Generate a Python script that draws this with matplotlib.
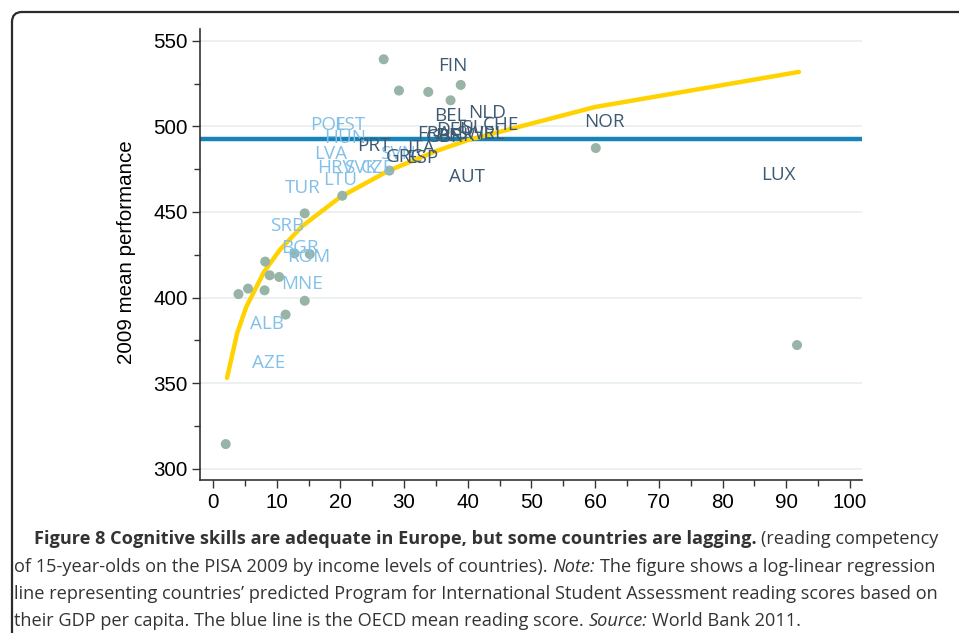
import matplotlib
matplotlib.use("Agg")
import matplotlib.pyplot as plt
from matplotlib.patches import FancyBboxPatch
from matplotlib.transforms import IdentityTransform

W, H, DPI = 959, 633, 100

# GDP per capita (x, thousand) and 2009 PISA reading score (y) for the grey dots
dot_x = [26.8, 29.2, 33.8, 38.9, 37.3, 27.7, 20.3, 14.4, 12.8, 15.2, 8.2, 8.9,
         10.4, 4.0, 5.5, 8.1, 14.4, 11.4, 2.0, 60.1, 91.7]
dot_y = [539.3, 521.0, 520.2, 524.3, 515.3, 474.2, 459.5, 449.2, 425.8, 425.4, 421.0, 413.0,
         412.0, 402.0, 405.2, 404.2, 398.1, 390.0, 314.3, 487.4, 372.2]

# fitted log-linear regression line
fit_x = [2.2, 3.8, 5.2, 8.0, 10.5, 14.0, 20.0, 27.5, 35.0, 40.0, 60.0, 92.0]
fit_y = [353.0, 379.2, 394.3, 414.9, 427.9, 441.7, 458.8, 474.0, 485.6, 492.0, 511.4, 531.9]

OECD_MEAN = 492.5

# country codes: newer / non-member countries (light blue)
light_codes = ["POL", "EST", "HUN", "LVA", "HRV", "SVK", "CZE", "LTU", "TUR", "SRB",
               "BGR", "ROM", "MNE", "ALB", "AZE", "SVN"]
light_x = [18.0, 21.4, 20.7, 18.4, 19.3, 23.2, 25.9, 19.9, 14.1, 11.6,
           13.7, 15.1, 13.9, 8.4, 8.8, 29.0]
light_y = [500.9, 500.9, 493.3, 483.9, 475.7, 475.7, 475.7, 468.7, 464.0, 441.8,
           429.0, 423.7, 407.9, 384.5, 361.7, 483.9]

# old member countries (dark slate)
dark_codes = ["FIN", "BEL", "NLD", "CHE", "FRA", "IRL", "DEU", "ISL", "DNK", "GBR",
              "SWE", "PRT", "GRC", "ITA", "ESP", "AUT", "NOR", "LUX"]
dark_x = [37.6, 37.2, 43.0, 45.3, 34.7, 43.7, 38.0, 40.3, 38.0, 36.4,
          41.1, 25.3, 30.1, 32.6, 32.8, 39.9, 61.4, 88.7]
dark_y = [535.6, 506.1, 508.1, 500.9, 495.6, 495.6, 498.0, 499.0, 494.4, 493.9,
          495.6, 488.6, 482.2, 487.4, 481.6, 470.5, 502.6, 471.6]

x_ticks = list(range(0, 101, 10))
y_ticks = [300, 350, 400, 450, 500, 550]

caption_lines = [
    [("Figure 8 Cognitive skills are adequate in Europe, but some countries are lagging.", "bold", "normal"),
     ("(reading competency", "normal", "normal")],
    [("of 15-year-olds on the PISA 2009 by income levels of countries).", "normal", "normal"),
     ("Note:", "normal", "italic"),
     ("The figure shows a log-linear regression", "normal", "normal")],
    [("line representing countries\u2019 predicted Program for International Student Assessment reading scores based on",
      "normal", "normal")],
    [("their GDP per capita. The blue line is the OECD mean reading score.", "normal", "normal"),
     ("Source:", "normal", "italic"),
     ("World Bank 2011.", "normal", "normal")],
]
caption_x = [34, 14, 14, 14]
caption_y = [544, 572, 599, 626]

LIGHT = "#82c0e9"
DARK = "#3e5a72"
INK = "#333333"
LABEL_FONT = "Open Sans"
TICK_FONT = "Liberation Sans"


def draw_caption(fig, size=13.1):
    renderer = fig.canvas.get_renderer()
    space = size * DPI / 72 * 0.26
    for runs, x0, y0 in zip(caption_lines, caption_x, caption_y):
        x = x0
        for s, weight, style in runs:
            t = fig.text(x / W, 1 - y0 / H, s, fontsize=size, family=LABEL_FONT,
                         fontweight=weight, fontstyle=style, color=INK, va="baseline")
            bb = t.get_window_extent(renderer)
            x += bb.width + space


def main():
    fig = plt.figure(figsize=(W / DPI, H / DPI), dpi=DPI)
    ax = fig.add_axes([200 / W, 153 / H, 662 / W, 451 / H])

    ax.set_xlim(-2.04, 101.9)
    ax.set_ylim(293.3, 557.0)

    ax.yaxis.grid(True, color="#e8eeee", lw=1.2)
    ax.set_axisbelow(True)

    ax.axhline(OECD_MEAN, color="#1684b8", lw=3.2, zorder=2)
    ax.plot(fit_x, fit_y, color="#ffd200", lw=3.2, solid_capstyle="round", zorder=3)
    ax.scatter(dot_x, dot_y, s=52, color="#98b4a7", edgecolors="none", zorder=4)

    for c, x, y in zip(light_codes, light_x, light_y):
        ax.text(x, y, c, color=LIGHT, fontsize=13.6, family=LABEL_FONT,
                ha="center", va="center", zorder=5)
    for c, x, y in zip(dark_codes, dark_x, dark_y):
        ax.text(x, y, c, color=DARK, fontsize=13.6, family=LABEL_FONT,
                ha="center", va="center", zorder=6)

    ax.set_xticks(x_ticks)
    ax.set_yticks(y_ticks)
    ax.set_xticks([v + 5 for v in x_ticks[:-1]], minor=True)
    ax.set_yticks([v + 25 for v in y_ticks[:-1]], minor=True)
    ax.tick_params(which="major", direction="out", length=6, width=1, color=INK,
                   labelsize=14.8, pad=3)
    ax.tick_params(which="minor", direction="out", length=4, width=1, color=INK)
    for lab in ax.get_xticklabels() + ax.get_yticklabels():
        lab.set_family(TICK_FONT)

    for side in ["top", "right"]:
        ax.spines[side].set_visible(False)
    for side in ["left", "bottom"]:
        ax.spines[side].set_color(INK)
        ax.spines[side].set_linewidth(1.2)

    fig.text(126 / W, 1 - 252 / H, "2009 mean performance", rotation=90,
             ha="center", va="center", fontsize=14.8, family=TICK_FONT, color="black")

    # rounded frame around the figure panel
    frame = FancyBboxPatch((12, -30), 1000, 651, boxstyle="round,pad=0,rounding_size=10",
                           transform=IdentityTransform(), fill=False, ec="#2b2b2b", lw=1.6)
    fig.patches.append(frame)

    draw_caption(fig)

    fig.savefig("out.png", dpi=DPI)


if __name__ == "__main__":
    main()
